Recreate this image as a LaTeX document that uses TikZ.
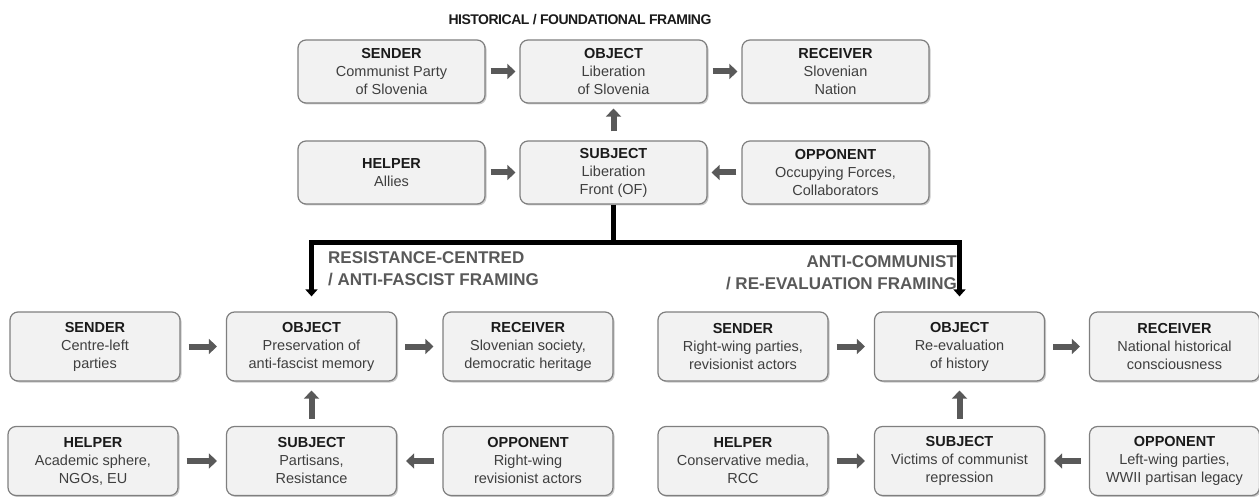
\documentclass[tikz,border=0pt]{standalone}
\usepackage{fontspec}
\setmainfont{Liberation Sans}
\usetikzlibrary{arrows.meta,shadows}
\definecolor{boxfill}{HTML}{F2F2F2}
\definecolor{boxdraw}{HTML}{7F7F7F}
\definecolor{arrowgray}{HTML}{595959}
\definecolor{bodytext}{HTML}{3F3F3F}
\definecolor{headtext}{HTML}{1A1A1A}
\definecolor{labelgray}{HTML}{595959}
\newcommand{\hd}[1]{\textbf{\textcolor{headtext}{#1}}}
\begin{document}
\begin{tikzpicture}[x=1pt,y=-1pt,
  actbox/.style={draw=boxdraw, line width=1.2pt, fill=boxfill, rounded corners=8pt,
    drop shadow={shadow xshift=1.5pt, shadow yshift=-1.5pt, opacity=0.35, fill=black!60},
    align=center, text=bodytext, font=\fontsize{14.5}{18}\selectfont, inner sep=0pt},
  topbox/.style={actbox, minimum width=187pt, minimum height=63pt},
  lowbox/.style={actbox, minimum width=170pt, minimum height=69pt},
  flow/.style={draw=arrowgray, line width=6pt, -{Triangle[width=15pt,length=8pt]}},
  branch/.style={draw=black, line width=5pt, line join=miter},
  framelabel/.style={font=\fontsize{17}{22}\selectfont\bfseries, text=labelgray, inner sep=0pt}
]
\useasboundingbox (0,0) rectangle (1259,497);

% title
\node[font=\fontsize{14}{17}\selectfont\bfseries\addfontfeature{LetterSpace=-3.5}, text=headtext, inner sep=0pt] (title) at (580,20) {HISTORICAL / FOUNDATIONAL FRAMING};

% top model
\node[topbox] (hs)  at (391.5,71.5) {\hd{SENDER}\\Communist Party\\of Slovenia};
\node[topbox] (ho)  at (613.5,71.5) {\hd{OBJECT}\\Liberation\\of Slovenia};
\node[topbox] (hr)  at (835.5,71.5) {\hd{RECEIVER}\\Slovenian\\Nation};
\node[topbox] (hh)  at (391.5,172.5) {\hd{HELPER}\\Allies};
\node[topbox] (hsu) at (613.5,172.5) {\hd{SUBJECT}\\Liberation\\Front (OF)};
\node[topbox] (hop) at (835.5,172.5) {\hd{OPPONENT}\\Occupying Forces,\\Collaborators};

\draw[flow, shorten <=5pt, shorten >=4pt] (hs) -- (ho);
\draw[flow, shorten <=5pt, shorten >=4pt] (ho) -- (hr);
\draw[flow, shorten <=5pt, shorten >=4pt] (hh) -- (hsu);
\draw[flow, shorten <=5pt, shorten >=4pt] (hop) -- (hsu);
\draw[flow, shorten <=9pt, shorten >=5pt] (hsu) -- (ho);

% left model
\node[lowbox] (ls)  at (95,346.5)   {\hd{SENDER}\\Centre-left\\parties};
\node[lowbox] (lo)  at (311.5,346.5) {\hd{OBJECT}\\Preservation of\\anti-fascist memory};
\node[lowbox] (lr)  at (528,346.5)  {\hd{RECEIVER}\\Slovenian society,\\democratic heritage};
\node[lowbox] (lh)  at (93,461)     {\hd{HELPER}\\Academic sphere,\\NGOs, EU};
\node[lowbox] (lsu) at (311.5,461)  {\hd{SUBJECT}\\Partisans,\\Resistance};
\node[lowbox] (lop) at (528,461)    {\hd{OPPONENT}\\Right-wing\\revisionist actors};

\draw[flow, shorten <=8pt, shorten >=9pt] (ls) -- (lo);
\draw[flow, shorten <=8pt, shorten >=9pt] (lo) -- (lr);
\draw[flow, shorten <=8pt, shorten >=9pt] (lh) -- (lsu);
\draw[flow, shorten <=8pt, shorten >=9pt] (lop) -- (lsu);
\draw[flow, shorten <=7pt, shorten >=9pt] (lsu) -- (lo);

% right model
\node[lowbox] (rs)  at (743,346.5)    {\hd{SENDER}\\Right-wing parties,\\revisionist actors};
\node[lowbox] (ro)  at (959.5,346.5)  {\hd{OBJECT}\\Re-evaluation\\of history};
\node[lowbox] (rr)  at (1174.5,346.5) {\hd{RECEIVER}\\National historical\\consciousness};
\node[lowbox] (rh)  at (743,461)      {\hd{HELPER}\\Conservative media,\\RCC};
\node[lowbox] (rsu) at (959.5,461)    {\hd{SUBJECT}\\Victims of communist\\repression};
\node[lowbox] (rop) at (1174.5,461)   {\hd{OPPONENT}\\Left-wing parties,\\WWII partisan legacy};

\draw[flow, shorten <=8pt, shorten >=9pt] (rs) -- (ro);
\draw[flow, shorten <=8pt, shorten >=9pt] (ro) -- (rr);
\draw[flow, shorten <=8pt, shorten >=9pt] (rh) -- (rsu);
\draw[flow, shorten <=8pt, shorten >=9pt] (rop) -- (rsu);
\draw[flow, shorten <=7pt, shorten >=9pt] (rsu) -- (ro);

% branching
\coordinate (j) at (613.5,243);
\draw[branch] (hsu) -- (j);
\draw[branch, -{Triangle[width=12pt,length=7pt]}, shorten >=15pt] (j) -| (lo);
\draw[branch, -{Triangle[width=12pt,length=7pt]}, shorten >=15pt] (j) -| (ro);

\node[framelabel, anchor=north west, align=left] (lfl) at (328,251) {RESISTANCE-CENTRED\\/ ANTI-FASCIST FRAMING};
\node[framelabel, anchor=north east, align=right] (rfl) at (957,255) {ANTI-COMMUNIST\\/ RE-EVALUATION FRAMING};
\end{tikzpicture}
\end{document}
